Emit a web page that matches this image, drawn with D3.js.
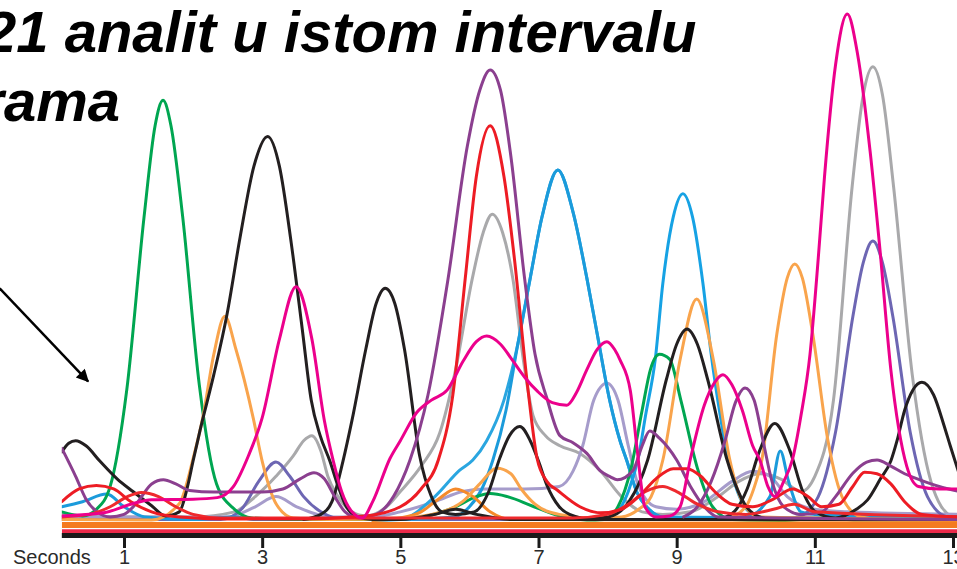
<!DOCTYPE html>
<html>
<head>
<meta charset="utf-8">
<script src="https://cdn.jsdelivr.net/npm/d3@7"></script>
<style>
  html, body { margin: 0; padding: 0; background: #fff; }
  svg { display: block; }
</style>
</head>
<body>
<svg id="chart" width="957" height="569"></svg>
<script>
// Retention-time axis (seconds)
const tickSeconds = [1, 3, 5, 7, 9, 11, 13];
const tickLabels = ["1", "3", "5", "7", "9", "11", "13"];
const axisName = "Seconds";
const titleLines = ["21 analit u istom intervalu", "rama"];

// Detector traces: [seconds, signal]
const greenTrace = [[0.1,2],[0.4,1.2],[0.6,2.5],[0.8,7],[1.04,26],[1.29,60],[1.45,78],[1.565,83],[1.68,78],[1.85,60],[2.09,27],[2.34,7.5],[2.6,2.5],[2.85,0.8],[3.5,0.5],[4.5,0.5],[5.2,0.8],[5.8,3],[6.1,5],[6.3,5.6],[6.55,5],[6.9,3.2],[7.3,1.2],[7.7,0.4],[7.95,0.5],[8.15,3],[8.34,10.6],[8.5,22],[8.62,30],[8.75,33],[8.9,32],[9.06,24],[9.3,10.6],[9.52,3],[9.8,0.5],[10.5,0.3],[11.2,0.8],[11.6,0.4],[13.1,0.4]];

const blackEarly = [[0.1,13.8],[0.2,15.5],[0.3,16],[0.45,15],[0.65,12],[0.9,8.5],[1.13,6],[1.4,3.2],[1.6,1.2],[1.8,2],[1.92,7],[2.0,12],[2.1,18],[2.3,29],[2.49,40.8],[2.68,56],[2.88,70],[3.08,75.9],[3.25,70],[3.42,55],[3.58,38],[3.71,24],[3.84,17],[3.98,12],[4.1,7],[4.2,3.5],[4.35,1.2],[4.6,0.5],[5.0,0.5],[5.5,1.5],[5.8,2.5],[6.1,1.5],[6.6,0.5],[13.1,0.5]];
const blackMid = [[3.6,0.5],[3.85,1.5],[4.01,4],[4.17,12],[4.3,20],[4.5,34],[4.65,43],[4.78,46],[4.92,43],[5.06,34],[5.28,13],[5.45,5],[5.6,2],[5.8,1.5],[6.07,2],[6.28,6],[6.44,12.6],[6.58,17],[6.73,18.8],[6.88,16],[7.0,12],[7.12,7.3],[7.3,3],[7.45,1.5],[7.8,0.5],[13.1,0.5]];
const blackLate = [[7.6,0.5],[8.01,1],[8.31,4],[8.58,12.2],[8.85,28],[9.0,35],[9.15,38],[9.3,35],[9.45,28],[9.73,12.2],[9.99,3.4],[10.2,1],[10.4,0.5],[13.1,0.5]];
const blackEnd = [[9.6,0.5],[9.83,2],[10.02,6.5],[10.2,14],[10.42,19.4],[10.64,14],[10.82,6.2],[11.01,2],[11.3,0.8],[11.6,2.5],[11.76,4.3],[11.95,8.5],[12.1,12],[12.19,16],[12.3,22],[12.42,26],[12.55,27.5],[12.72,25],[12.87,19],[12.96,15],[13.1,9]];

const orangeA = [[0.1,0.5],[1.4,0.4],[1.8,3.6],[2.01,13],[2.14,20.5],[2.3,33],[2.46,40.5],[2.62,34],[2.87,20.5],[3.0,12],[3.21,3.4],[3.45,0.8],[4.0,0.5],[5.0,0.8],[5.6,2],[5.9,4],[6.15,7.5],[6.4,10.6],[6.6,9.5],[6.75,6.5],[6.95,3.5],[7.3,1.5],[7.8,0.8],[8.2,1],[8.45,2.5],[8.63,5],[8.8,12.2],[9.05,32],[9.29,43.9],[9.53,32],[9.77,12.2],[9.95,4],[10.2,1],[13.1,0.5]];
const orangeB = [[9.7,0.5],[10.0,3],[10.15,8],[10.23,12],[10.45,37],[10.6,48],[10.71,50.8],[10.82,48],[10.97,37],[11.19,16],[11.41,4.5],[11.67,1],[12.0,0.5],[13.1,0.5]];
const orangeDark = [[4.6,0.3],[5.0,0.8],[5.3,2],[5.55,4.5],[5.8,6.5],[6.05,5],[6.3,2],[6.6,0.5],[13.1,0.3]];

const pinkTrace = [[0.1,1.2],[0.7,1.8],[1.1,3.5],[1.4,4.4],[2.0,4.5],[2.35,4.8],[2.58,6.9],[2.8,13],[3.0,20.5],[3.25,36],[3.49,46.3],[3.72,36],[3.9,20],[4.03,12],[4.15,6],[4.3,2],[4.45,0.8],[4.6,4],[4.85,12.5],[5.0,16],[5.24,21.6],[5.45,24],[5.68,26],[5.91,31.7],[6.1,35.5],[6.25,36.6],[6.45,35],[6.63,31.7],[6.8,28.5],[6.98,25.8],[7.2,23.5],[7.41,23],[7.55,25.5],[7.7,30],[7.85,34],[7.99,35.5],[8.1,34],[8.18,31.9],[8.33,25.8],[8.43,14],[8.54,3],[8.7,1],[8.9,1.2],[9.05,3],[9.2,12.5],[9.4,23],[9.55,27.5],[9.67,29],[9.8,27],[9.95,22],[10.1,15],[10.21,12],[10.32,7],[10.42,5],[10.55,8],[10.68,12.5],[10.8,21],[10.93,33],[11.05,52],[11.14,68],[11.3,90],[11.47,100],[11.62,92],[11.8,73],[11.94,54],[12.1,30],[12.33,11],[12.5,7],[12.8,6.5],[13.1,6.5]];

const purpleEarly = [[0.1,14.5],[0.3,9],[0.45,4.5],[0.61,2],[0.8,1],[1.0,1.5],[1.2,4],[1.4,7.5],[1.57,8.3],[1.75,7.5],[1.95,6.2],[2.3,5.9],[3.0,5.9],[3.3,6.5],[3.55,8.5],[3.75,9.7],[3.9,8.5],[4.05,5],[4.2,2],[4.4,0.8],[4.65,1.5],[4.9,5],[5.14,12.2],[5.4,25],[5.69,47.8],[5.97,74],[6.15,85],[6.3,89],[6.45,85],[6.6,72],[6.8,47.8],[6.95,33],[7.12,24.4],[7.31,17],[7.5,15.6],[7.7,13.5],[7.9,10],[8.04,8.9],[8.14,8.3],[8.37,10.2],[8.5,15],[8.61,17.9],[8.75,16.5],[9.0,12.2],[9.2,7],[9.4,3],[9.6,1],[13.1,0.5]];
const purpleLate = [[9.1,1],[9.3,3],[9.5,8],[9.7,16],[9.85,23.5],[9.99,26.4],[10.12,24],[10.25,16],[10.38,8],[10.55,3],[10.8,1.5],[11.1,2],[11.3,5],[11.55,9.6],[11.75,11.8],[11.9,12.2],[12.1,11],[12.3,9.5],[12.52,8.3],[12.8,7],[13.1,6]];

const redMain = [[0.1,4],[0.35,6.5],[0.6,7.2],[0.85,6.5],[1.1,4],[1.4,2],[1.8,1],[2.5,0.6],[3.5,0.6],[4.5,1.2],[5.0,3],[5.3,6.5],[5.55,12.2],[5.76,25],[5.94,48],[6.1,68],[6.3,78],[6.5,68],[6.65,52],[6.84,27],[6.98,12.5],[7.12,8],[7.27,6.3],[7.6,3],[7.9,1.8],[8.2,2.5],[8.45,5],[8.7,8.5],[8.95,10.5],[9.15,10.5],[9.35,9],[9.55,6],[9.8,3.5],[10.1,3],[10.4,4.5],[10.68,6.5],[10.9,5],[11.1,3],[11.35,3.5],[11.55,7],[11.72,9.8],[11.9,9.5],[12.1,7.5],[12.3,4],[12.55,1.5],[13.1,1]];
const redMinor = [[0.1,1],[0.5,1.5],[0.8,3],[1.05,5],[1.25,5.8],[1.5,5],[1.75,3],[2.0,1.5],[2.4,0.8],[7.5,0.8],[8.0,1.5],[8.3,3.5],[8.55,6],[8.8,7],[9.0,6],[9.3,3.5],[9.6,2],[10.0,1.5],[10.4,2.5],[10.7,3.5],[11.0,2],[13.1,1]];

const grayTrace = [[0.1,1.5],[1.0,1],[2.0,1],[2.6,2],[2.9,5],[3.2,9],[3.45,13],[3.6,16],[3.72,17],[3.85,14],[3.95,9],[4.1,5],[4.3,2],[4.5,1.2],[4.8,3],[5.0,6],[5.3,11],[5.57,17.5],[5.8,30],[6.04,47.8],[6.2,57],[6.33,60.6],[6.48,57],[6.63,47.8],[6.78,32],[6.92,21],[7.1,17],[7.31,15],[7.6,13.5],[7.9,10],[8.2,5],[8.5,2],[8.8,1.5],[9.2,2],[9.6,5],[9.9,8],[10.2,9.5],[10.5,8.5],[10.8,6],[11.0,9],[11.27,24],[11.54,66],[11.7,84],[11.84,89.6],[11.98,84],[12.14,66],[12.41,29],[12.68,8],[12.98,1],[13.1,0.5]];

const blueMain = [[0.1,3],[0.4,4],[0.75,5.5],[1.0,3],[1.3,1],[2.0,0.5],[2.6,1],[2.9,0.5],[5.0,0.5],[5.78,1],[6.0,3],[6.18,6.5],[6.34,12.2],[6.53,22],[6.7,35],[6.88,48],[7.05,60],[7.28,69.3],[7.5,61],[7.7,48],[7.85,37],[8.03,24],[8.18,16],[8.28,12],[8.42,6],[8.6,2.5],[8.8,1],[9.2,0.8],[10.0,1],[10.35,5],[10.5,14],[10.62,8],[10.8,2],[11.0,1.5],[13.1,1]];
const blueLate = [[7.9,0.5],[8.1,1.5],[8.3,6],[8.45,13],[8.55,21],[8.69,32],[8.8,47],[8.95,60],[9.09,64.6],[9.23,60],[9.38,47],[9.5,33],[9.63,21],[9.75,12],[9.88,6],[10.05,2],[10.3,0.8],[13.1,0.8]];
const cyanTrace = [[4.6,0.3],[5.0,0.5],[5.5,5],[5.86,10.2],[6.05,12.2],[6.25,16],[6.5,24],[6.7,35],[6.88,48],[7.05,60],[7.28,69.3],[7.5,61],[7.7,48],[7.85,37],[8.03,24],[8.18,16],[8.28,12],[8.42,6],[8.6,2.5],[8.8,1],[13.1,0.5]];

const lavenderTrace = [[0.1,1],[2.5,1],[2.9,3],[3.2,5],[3.5,3],[4.0,1],[4.6,1],[5.0,2],[5.5,4],[5.9,6],[6.2,6.5],[6.8,6.5],[7.3,7],[7.5,10],[7.64,15],[7.8,24],[7.99,27.3],[8.15,24],[8.3,15],[8.45,7],[8.7,3],[9.0,2.5],[9.4,4],[9.8,8],[10.1,10],[10.35,9],[10.6,5],[11.0,2.5],[11.5,2],[13.1,1.5]];
const slateTrace = [[0.1,0.5],[2.4,0.5],[2.7,2.5],[2.95,8],[3.2,11.8],[3.4,9],[3.6,5],[3.85,2],[4.2,0.5],[10.5,0.5],[10.76,1],[11.05,5],[11.3,17.7],[11.55,40.4],[11.7,51],[11.84,55.3],[11.98,51],[12.13,40.4],[12.38,17.7],[12.63,5],[12.92,1],[13.1,0.8]];

// Solvent-front baseline bands
const baseOrange = [[0.1,-0.6],[13.1,-0.6]];
const baseRed = [[0.1,-1.8],[13.1,-1.8]];

// Annotation arrow, in chart units
const arrowFrom = [-0.8, 46];
const arrowTo = [0.48, 27.7];

const x = d3.scaleLinear().domain([1, 13]).range([124, 953]);
const y = d3.scaleLinear().domain([0, 100]).range([522, 14]);

const svg = d3.select("#chart");
const W = 957, H = 569;

const defs = svg.append("defs");
defs.append("clipPath").attr("id", "plot")
  .append("rect").attr("x", x(0.1)).attr("y", 0).attr("width", W - x(0.1)).attr("height", 540);

defs.append("marker")
  .attr("id", "head").attr("viewBox", "0 0 10 10")
  .attr("refX", 9).attr("refY", 5)
  .attr("markerWidth", 6).attr("markerHeight", 5)
  .attr("markerUnits", "strokeWidth").attr("orient", "auto")
  .append("path").attr("d", "M0,0 L10,5 L0,10 z").attr("fill", "#000");

const line = d3.line()
  .x(d => x(d[0]))
  .y(d => y(d[1]))
  .curve(d3.curveMonotoneX);

const traces = [
  { data: grayTrace, color: "#a9a9ab" },
  { data: lavenderTrace, color: "#a69ccb" },
  { data: slateTrace, color: "#6d66b3" },
  { data: cyanTrace, color: "#2aa6e0" },
  { data: blueMain, color: "#1b9bdb" },
  { data: blueLate, color: "#16a2e4" },
  { data: greenTrace, color: "#00a651" },
  { data: orangeDark, color: "#f58a2a" },
  { data: orangeA, color: "#f9a44c" },
  { data: orangeB, color: "#f9a44c" },
  { data: blackEarly, color: "#231f20" },
  { data: blackMid, color: "#231f20" },
  { data: blackLate, color: "#231f20" },
  { data: blackEnd, color: "#231f20" },
  { data: purpleEarly, color: "#8b3f8f" },
  { data: purpleLate, color: "#8b3f8f" },
  { data: redMinor, color: "#ee2a2e" },
  { data: redMain, color: "#ed1c24" },
  { data: pinkTrace, color: "#ec008c" }
];

const plot = svg.append("g").attr("clip-path", "url(#plot)");

plot.selectAll("path.trace")
  .data(traces)
  .join("path")
  .attr("class", "trace")
  .attr("d", d => line(d.data))
  .attr("fill", "none")
  .attr("stroke", d => d.color)
  .attr("stroke-width", 3)
  .attr("stroke-linejoin", "round")
  .attr("stroke-linecap", "round");

plot.append("path").attr("d", line(baseRed))
  .attr("fill", "none").attr("stroke", "#ec2a4a").attr("stroke-width", 4);
plot.append("path").attr("d", line(baseOrange))
  .attr("fill", "none").attr("stroke", "#f47b20").attr("stroke-width", 6);

// Time axis
const axisY = 536;
svg.append("line")
  .attr("x1", x(0.1)).attr("x2", W)
  .attr("y1", axisY - 0.5).attr("y2", axisY - 0.5)
  .attr("stroke", "#1a1a1a").attr("stroke-width", 5);

const axis = d3.axisBottom(x)
  .tickValues(tickSeconds)
  .tickFormat((d, i) => tickLabels[i])
  .tickSize(12)
  .tickSizeOuter(0);

const gAxis = svg.append("g").attr("transform", `translate(0,${axisY})`).call(axis);
gAxis.select(".domain").remove();
gAxis.selectAll(".tick line").attr("stroke", "#1a1a1a").attr("stroke-width", 3);
gAxis.selectAll(".tick text")
  .attr("y", 28).attr("dy", 0)
  .attr("fill", "#2a2a2a")
  .style("font-family", "Liberation Sans, Arial, sans-serif")
  .style("font-size", "20px");

svg.append("text")
  .attr("x", 13).attr("y", axisY + 28)
  .attr("fill", "#2a2a2a")
  .style("font-family", "Liberation Sans, Arial, sans-serif")
  .style("font-size", "20px")
  .text(axisName);

// Title
svg.append("text")
  .attr("x", -16).attr("y", 52)
  .style("font-family", "Liberation Sans, Arial, sans-serif")
  .style("font-size", "58px").style("font-weight", "bold").style("font-style", "italic")
  .attr("fill", "#000")
  .text(titleLines[0]);
svg.append("text")
  .attr("x", 120).attr("y", 121).attr("text-anchor", "end")
  .style("font-family", "Liberation Sans, Arial, sans-serif")
  .style("font-size", "58px").style("font-weight", "bold").style("font-style", "italic")
  .attr("fill", "#000")
  .text(titleLines[1]);

// Arrow pointing at the crowded low-level region
svg.append("line")
  .attr("x1", x(arrowFrom[0])).attr("y1", y(arrowFrom[1]))
  .attr("x2", x(arrowTo[0])).attr("y2", y(arrowTo[1]))
  .attr("stroke", "#000").attr("stroke-width", 2.5)
  .attr("marker-end", "url(#head)");
</script>
</body>
</html>
